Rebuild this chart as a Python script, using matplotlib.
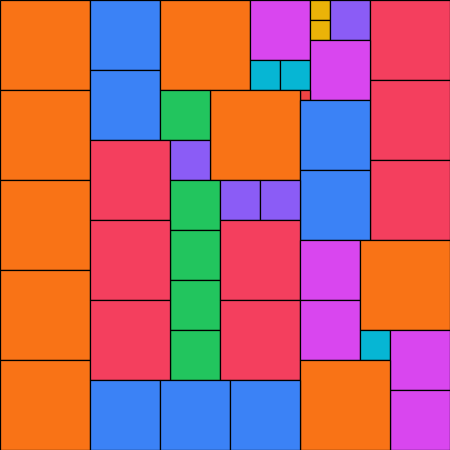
import matplotlib.pyplot as plt
from matplotlib.patches import Rectangle

# square packing: left/top corner and side length (in px units of a 450 canvas)
xs = [0, 0, 0, 0, 0,
      90, 90, 160, 250, 310, 310, 330,
      370, 370, 370, 250, 280, 310, 300,
      210, 160, 90, 170, 300, 300,
      170, 170, 170, 170, 220, 260,
      90, 90, 220, 220, 300, 300, 360, 360,
      390, 390, 300, 90, 160, 230]
ys = [0, 90, 180, 270, 360,
      0, 70, 0, 0, 0, 20, 0,
      0, 80, 160, 60, 60, 40, 90,
      90, 90, 140, 140, 100, 170,
      180, 230, 280, 330, 180, 180,
      220, 300, 220, 300, 240, 300, 240, 330,
      330, 390, 360, 380, 380, 380]
sizes = [90, 90, 90, 90, 90,
         70, 70, 90, 60, 20, 20, 40,
         80, 80, 80, 30, 30, 60, 10,
         90, 50, 80, 40, 70, 70,
         50, 50, 50, 50, 40, 40,
         80, 80, 80, 80, 60, 60, 90, 30,
         60, 60, 90, 70, 70, 70]

colors = {10: "#ef4444", 20: "#eab308", 30: "#06b6d4", 40: "#8b5cf6",
          50: "#22c55e", 60: "#d946ef", 70: "#3b82f6", 80: "#f43f5e",
          90: "#f97316"}

fig = plt.figure(figsize=(4.5, 4.5), dpi=100)
ax = fig.add_axes([0, 0, 1, 1])

for x, y, s in zip(xs, ys, sizes):
    ax.add_patch(Rectangle((x, y), s, s, facecolor=colors[s],
                           edgecolor="black", linewidth=0.9))

ax.set_xlim(0, 450)
ax.set_ylim(450, 0)
ax.axis("off")

fig.savefig("out.png", dpi=100)
